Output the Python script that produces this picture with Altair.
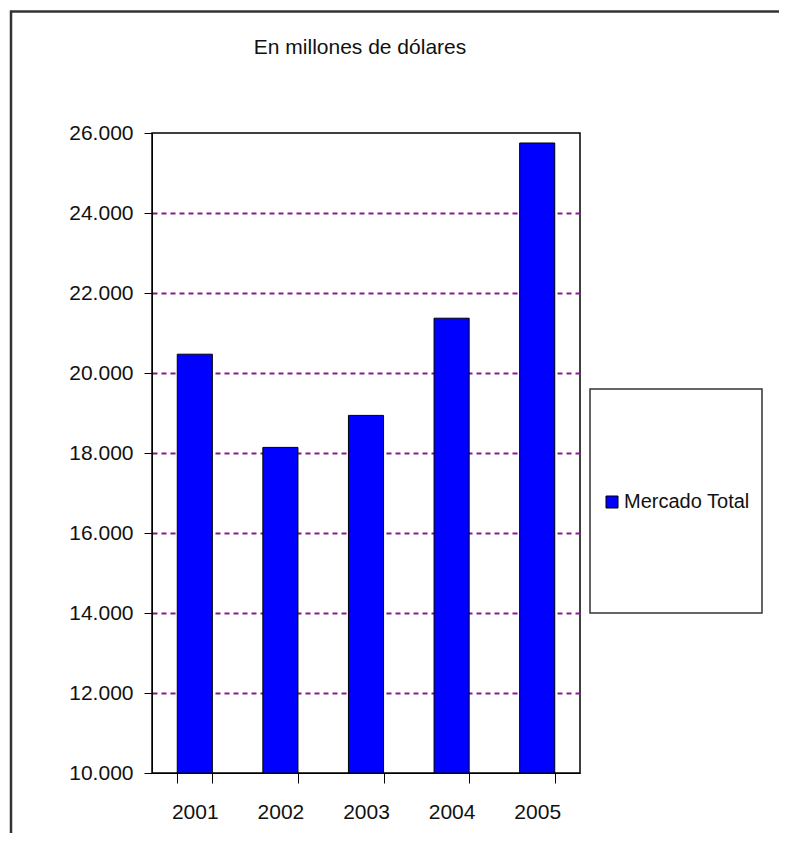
import altair as alt
import pandas as pd

# ---- data ----
years = ["2001", "2002", "2003", "2004", "2005"]
valores = [20470, 18140, 18940, 21370, 25750]
serie = ["Mercado Total"] * 5
y_ticks = [10000, 12000, 14000, 16000, 18000, 20000, 22000, 24000, 26000]
y_min, y_max = 10000, 26000

titulo = "En millones de dólares"

df = pd.DataFrame({"anio": years, "valor": valores, "serie": serie})
one = pd.DataFrame({"k": [0]})

FONT = "Liberation Sans"
W, H = 428, 640

x_enc = alt.X(
    "anio:N",
    title=None,
    sort=years,
    scale=alt.Scale(paddingInner=0.59, paddingOuter=0.295),
    axis=alt.Axis(
        labelAngle=0,
        tickBand="extent",
        tickSize=10,
        tickColor="black",
        domainColor="black",
        labelPadding=18,
        labelFont=FONT,
        labelFontSize=21,
        labelColor="#111",
        grid=False,
    ),
)

y_enc = alt.Y(
    "valor:Q",
    title=None,
    scale=alt.Scale(domain=[y_min, y_max], nice=False, zero=False),
    axis=alt.Axis(
        values=y_ticks,
        labelExpr="replace(format(datum.value, ','), ',', '.')",
        tickSize=8,
        tickColor="black",
        domainColor="black",
        labelPadding=11,
        labelFont=FONT,
        labelFontSize=21,
        labelColor="#111",
        grid=True,
        gridColor="#8a1a8a",
        gridDash=[5, 4],
        gridWidth=2,
        gridOpacity={
            "condition": {
                "test": "datum.value == 10000 || datum.value == 26000",
                "value": 0,
            },
            "value": 1,
        },
    ),
)

# outer panel border (decoration)
frame = alt.Chart(one).mark_rect(
    fill="transparent", stroke="#333333", strokeWidth=2.5
).encode(
    x=alt.value(-141), x2=alt.value(700), y=alt.value(-121.5), y2=alt.value(800)
)

# legend box (decoration)
legend_box = alt.Chart(one).mark_rect(
    fill="white", stroke="#333333", strokeWidth=1.5
).encode(
    x=alt.value(438), x2=alt.value(610), y=alt.value(256), y2=alt.value(480)
)

bars = alt.Chart(df).mark_bar(stroke="black", strokeWidth=1).encode(
    x=x_enc,
    y=y_enc,
    y2=alt.datum(y_min),
    color=alt.Color(
        "serie:N",
        scale=alt.Scale(domain=["Mercado Total"], range=["#0000ff"]),
        legend=alt.Legend(
            title=None,
            orient="none",
            legendX=450,
            legendY=359,
            symbolType="square",
            symbolSize=144,
            symbolStrokeColor="black",
            symbolStrokeWidth=1,
            symbolFillColor="#0000ff",
            labelFont=FONT,
            labelFontSize=20,
            labelColor="#111",
            labelOffset=2,
            padding=0,
        ),
    ),
)

chart = (
    alt.layer(frame, legend_box, bars)
    .properties(
        width=W,
        height=H,
        autosize=alt.AutoSizeParams(type="none"),
        padding={"left": 144, "top": 125, "right": 199, "bottom": 60},
        background="white",
        title=alt.TitleParams(
            titulo,
            font=FONT,
            fontSize=21,
            fontWeight="normal",
            color="#111",
            anchor="middle",
            frame="group",
            baseline="alphabetic",
            offset=-65,
            dx=-6,
        ),
    )
    .configure_view(stroke="black", strokeWidth=1.5, fill="white")
)

chart.save("out.html", embed_options={"renderer": "svg", "actions": False})
